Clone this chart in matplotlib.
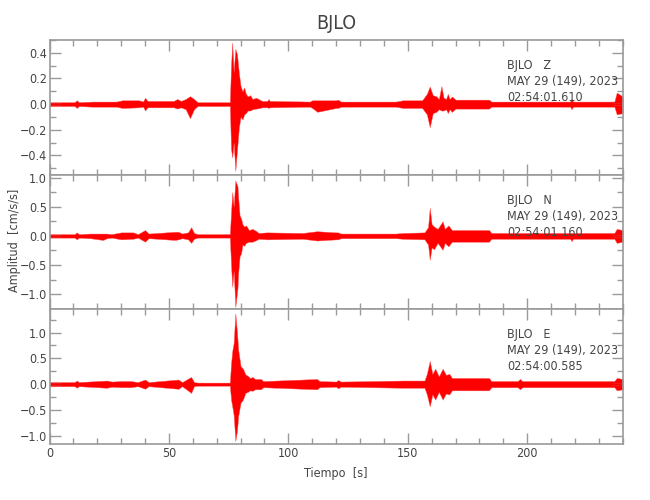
import numpy as np
import matplotlib
matplotlib.use('Agg')
import matplotlib.pyplot as plt
from matplotlib import ticker
from matplotlib import font_manager

# envelope of each trace: time [s], upper, lower [cm/s/s]
tZ = [0, 10.5, 11.4, 12.3, 18, 28, 30.5, 37.5, 39.2, 40, 41, 52, 53.5, 55, 57, 58.8, 60.5, 62,
      75.5, 76.0, 76.5, 77.1, 77.8, 78.5, 79.3, 80.0, 80.8, 81.5, 82.2, 83, 84, 85, 86.5, 88, 89,
      91.2, 91.7, 92.2, 109, 110, 112.1, 120, 120.8, 122, 145, 148, 156, 158, 159.2, 160.5, 162,
      163, 164.1, 165, 166, 166.8, 167.5, 168.5, 170, 184, 185, 218, 218.6, 219.2, 236.5, 237.5,
      240]
hiZ = [0.015, 0.015, 0.03, 0.015, 0.02, 0.02, 0.03, 0.03, 0.02, 0.05, 0.025, 0.025, 0.04, 0.025,
       0.04, 0.062, 0.04, 0.015, 0.015, 0.3, 0.48, 0.25, 0.43, 0.39, 0.24, 0.14, 0.10, 0.13, 0.08,
       0.06, 0.07, 0.04, 0.05, 0.035, 0.025, 0.025, 0.04, 0.025, 0.02, 0.03, 0.03, 0.03, 0.035,
       0.02, 0.02, 0.03, 0.03, 0.08, 0.137, 0.07, 0.06, 0.04, 0.14, 0.05, 0.04, 0.08, 0.04, 0.06,
       0.035, 0.035, 0.02, 0.02, 0.04, 0.02, 0.02, 0.09, 0.06]
loZ = [-0.015, -0.015, -0.03, -0.015, -0.02, -0.02, -0.03, -0.025, -0.02, -0.05, -0.025, -0.025,
       -0.035, -0.025, -0.04, -0.11, -0.04, -0.015, -0.015, -0.35, -0.415, -0.3, -0.52, -0.36,
       -0.18, -0.10, -0.12, -0.08, -0.07, -0.05, -0.05, -0.04, -0.035, -0.03, -0.025, -0.025,
       -0.03, -0.025, -0.02, -0.03, -0.06, -0.03, -0.03, -0.02, -0.02, -0.03, -0.03, -0.08, -0.18,
       -0.07, -0.06, -0.04, -0.05, -0.05, -0.04, -0.07, -0.04, -0.06, -0.035, -0.035, -0.02, -0.02,
       -0.04, -0.02, -0.02, -0.08, -0.07]

tN = [0, 10.5, 11.4, 12.3, 17, 22.4, 24, 26, 30, 35, 37, 40, 41.5, 52.5, 54, 55.5, 58, 59.3, 60.5,
      62, 75.5, 76.0, 76.5, 77.1, 77.8, 78.7, 79.0, 79.6, 80.2, 80.8, 81.5, 82.3, 83.5, 85, 86.7,
      87.5, 91, 106, 112, 120, 120.8, 122, 145, 148, 157, 158.5, 159.2, 160, 161, 162.5, 164.6,
      165.5, 167, 168.5, 170, 184, 185, 218, 218.6, 219.2, 236.5, 237.5, 240]
hiN = [0.03, 0.03, 0.06, 0.03, 0.04, 0.04, 0.04, 0.03, 0.06, 0.06, 0.03, 0.1, 0.04, 0.07, 0.07,
       0.04, 0.06, 0.15, 0.05, 0.03, 0.03, 0.4, 0.75, 0.5, 0.95, 0.85, 0.66, 0.35, 0.3, 0.2, 0.16,
       0.18, 0.1, 0.12, 0.08, 0.05, 0.06, 0.05, 0.08, 0.06, 0.06, 0.04, 0.04, 0.05, 0.06, 0.15,
       0.48, 0.2, 0.16, 0.12, 0.25, 0.12, 0.18, 0.1, 0.1, 0.1, 0.05, 0.05, 0.05, 0.05, 0.05, 0.12,
       0.1]
loN = [-0.03, -0.03, -0.06, -0.03, -0.04, -0.07, -0.04, -0.03, -0.06, -0.05, -0.03, -0.1, -0.04,
       -0.07, -0.06, -0.04, -0.06, -0.12, -0.05, -0.03, -0.03, -0.5, -0.87, -0.6, -1.22, -0.9,
       -0.64, -0.35, -0.3, -0.15, -0.17, -0.12, -0.1, -0.1, -0.07, -0.05, -0.06, -0.05, -0.08,
       -0.06, -0.06, -0.04, -0.04, -0.05, -0.06, -0.15, -0.41, -0.2, -0.23, -0.12, -0.24, -0.12,
       -0.18, -0.1, -0.1, -0.1, -0.05, -0.05, -0.09, -0.05, -0.05, -0.12, -0.1]

tE = [0, 10.5, 11.4, 12.3, 24, 26, 30, 34, 37, 40, 41.5, 54, 55.5, 59.3, 60.5, 62, 75.5, 76.0,
      76.5, 77.1, 77.8, 78.5, 79.0, 80.0, 81, 82, 83, 84, 85, 86, 88.5, 89.5, 112, 113, 120, 120.8,
      122, 148, 157, 158, 159.2, 160.3, 161.5, 163, 164.6, 166, 167.4, 168.5, 170, 184, 185, 196,
      197, 198, 236.5, 237.5, 240]
hiE = [0.04, 0.04, 0.07, 0.04, 0.07, 0.05, 0.06, 0.06, 0.04, 0.09, 0.04, 0.09, 0.04, 0.14, 0.04,
       0.03, 0.03, 0.4, 0.64, 0.8, 1.37, 1.0, 0.67, 0.35, 0.3, 0.19, 0.16, 0.12, 0.14, 0.1, 0.1,
       0.06, 0.1, 0.06, 0.05, 0.08, 0.05, 0.07, 0.07, 0.2, 0.45, 0.2, 0.3, 0.15, 0.3, 0.18, 0.2,
       0.12, 0.12, 0.12, 0.06, 0.06, 0.1, 0.06, 0.06, 0.12, 0.1]
loE = [-0.04, -0.04, -0.07, -0.04, -0.07, -0.05, -0.06, -0.06, -0.04, -0.09, -0.04, -0.09, -0.04,
       -0.17, -0.04, -0.03, -0.03, -0.3, -0.43, -0.6, -1.1, -0.9, -0.62, -0.36, -0.3, -0.17, -0.15,
       -0.12, -0.13, -0.1, -0.1, -0.06, -0.1, -0.06, -0.05, -0.08, -0.05, -0.07, -0.07, -0.2,
       -0.43, -0.2, -0.3, -0.15, -0.3, -0.18, -0.2, -0.12, -0.12, -0.12, -0.06, -0.06, -0.1, -0.06,
       -0.06, -0.12, -0.1]

labels = ['BJLO   Z', 'BJLO   N', 'BJLO   E']
starts = ['02:54:01.610', '02:54:01.160', '02:54:00.585']
fecha = 'MAY 29 (149), 2023'

# a narrow face is closer to the vector font of the original
installed = {f.name for f in font_manager.fontManager.ttflist}
fam = 'Liberation Sans Narrow' if 'Liberation Sans Narrow' in installed else 'DejaVu Sans'
plt.rcParams['font.family'] = [fam, 'DejaVu Sans']
plt.rcParams['font.stretch'] = 'condensed'

txt = '#444444'
frame = '#9a9a9a'

fig = plt.figure(figsize=(6.5, 5), dpi=100)
gs = fig.add_gridspec(3, 1, left=0.0762, right=0.958, top=0.92, bottom=0.112, hspace=0.0)

traces = [(tZ, hiZ, loZ), (tN, hiN, loN), (tE, hiE, loE)]
ylims = [(-0.55, 0.5), (-1.26, 1.05), (-1.16, 1.45)]
ymaj = [0.2, 0.5, 0.5]
ymin = [0.1, 0.25, 0.25]

axes = []
for i, (t, hi, lo) in enumerate(traces):
    ax = fig.add_subplot(gs[i])
    ax.fill_between(t, lo, hi, color='red', lw=0.3, edgecolor='#ff5050')
    ax.plot([0, 240], [0, 0], color='red', lw=0.8)
    ax.set_xlim(0, 240)
    ax.set_ylim(*ylims[i])
    ax.xaxis.set_major_locator(ticker.MultipleLocator(50))
    ax.xaxis.set_minor_locator(ticker.MultipleLocator(10))
    ax.yaxis.set_major_locator(ticker.MultipleLocator(ymaj[i]))
    ax.yaxis.set_minor_locator(ticker.MultipleLocator(ymin[i]))
    ax.yaxis.set_major_formatter(ticker.StrMethodFormatter('{x:.1f}'))
    ax.tick_params(which='both', direction='in', top=True, right=True, colors=frame,
                   labelcolor=txt, labelsize=9, pad=2)
    ax.tick_params(which='major', length=8, width=1)
    ax.tick_params(which='minor', length=4, width=1)
    for s in ax.spines.values():
        s.set_color(frame)
        s.set_linewidth(1.2)
    if i < 2:
        ax.tick_params(axis='x', labelbottom=False)
    ax.text(0.798, 0.86, labels[i] + '\n' + fecha + '\n' + starts[i], transform=ax.transAxes,
            ha='left', va='top', fontsize=9, color=txt, linespacing=1.3)
    axes.append(ax)

axes[0].set_title('BJLO', fontsize=14, color=txt, pad=8)
fig.text(0.022, 0.52, 'Amplitud  [cm/s/s]', rotation=90, ha='center', va='center',
         fontsize=9, color=txt)
axes[2].set_xlabel('Tiempo  [s]', fontsize=9, color=txt, labelpad=5)

fig.savefig('out.png', dpi=100)
